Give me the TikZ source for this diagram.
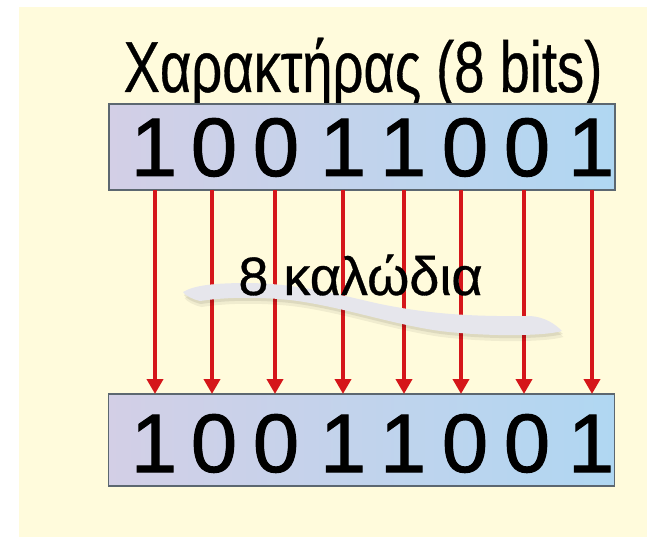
\documentclass[tikz,border=0pt]{standalone}
\usepackage{fontspec}
\setmainfont{Liberation Sans}
\newfontfamily\heavyfont[FakeBold=1.2]{Liberation Sans}
\newfontfamily\semifont[FakeBold=0.6]{Liberation Sans}
\usetikzlibrary{arrows.meta}
\definecolor{cream}{RGB}{255,251,220}
\definecolor{boxleft}{RGB}{211,207,230}
\definecolor{boxright}{RGB}{176,215,242}
\definecolor{boxborder}{RGB}{92,103,112}
\definecolor{wirered}{RGB}{213,22,26}
\definecolor{ribbon}{RGB}{230,230,236}
\tikzset{
  bitbox/.style={draw=boxborder, line width=1.3pt, left color=boxleft, right color=boxright,
    minimum width=506pt, inner sep=0pt, outer sep=0pt},
  digit/.style={anchor=base, inner sep=0pt, font=\heavyfont\fontsize{83}{83}\selectfont},
  wire/.style={draw=wirered, line width=4.5pt, -{Triangle[width=16pt,length=15pt]}},
}
\begin{document}
\begin{tikzpicture}[x=1pt,y=-1pt]
\useasboundingbox (0,0) rectangle (647,537);
\fill[cream] (19,7) rectangle (647,537);
% title
\node[anchor=base, inner sep=0pt, font=\semifont\fontsize{72}{72}\selectfont] (title) at (363,92)
  {\scalebox{0.755}[1]{Χαρακτήρας (8 bits)}};
% boxes
\node[bitbox, minimum height=86pt] (topbox) at (362,147) {};
\node[bitbox, minimum height=92pt] (botbox) at (361.5,440) {};
% digits
\foreach \x/\d [count=\i] in {154/1,214/0,276/0,343/1,403/1,465/0,527/0,591/1}{
  \node[digit] (t\i) at (\x,176) {\d};
  \node[digit] (b\i) at (\x,472) {\d};
}
% wires
\foreach \x [count=\i] in {155,212,275,343,404,461,524,592}{
  \coordinate (s\i) at (\x,190);
  \coordinate (e\i) at (\x,394);
  \draw[wire] (s\i) -- (e\i);
}
% ribbon
\def\ribbonpath{(183,292) .. controls (195,285) and (215,283) .. (250,283)
  .. controls (300,284) and (340,295) .. (380,304)
  .. controls (420,312) and (460,317) .. (530,316)
  .. controls (545,317) and (555,324) .. (562,331)
  .. controls (545,336) and (490,337) .. (440,331)
  .. controls (390,324) and (340,306) .. (290,300)
  .. controls (250,296) and (220,298) .. (200,301)
  .. controls (192,299) and (186,296) .. (183,292) -- cycle}
\fill[black, opacity=0.06, shift={(1.5,6)}] \ribbonpath;
\fill[black, opacity=0.08, shift={(0.8,3)}] \ribbonpath;
\fill[ribbon] \ribbonpath;
\node[anchor=base, inner sep=0pt, font=\semifont\fontsize{54}{54}\selectfont] (wires) at (360.5,295) {8 καλώδια};
\end{tikzpicture}
\end{document}
